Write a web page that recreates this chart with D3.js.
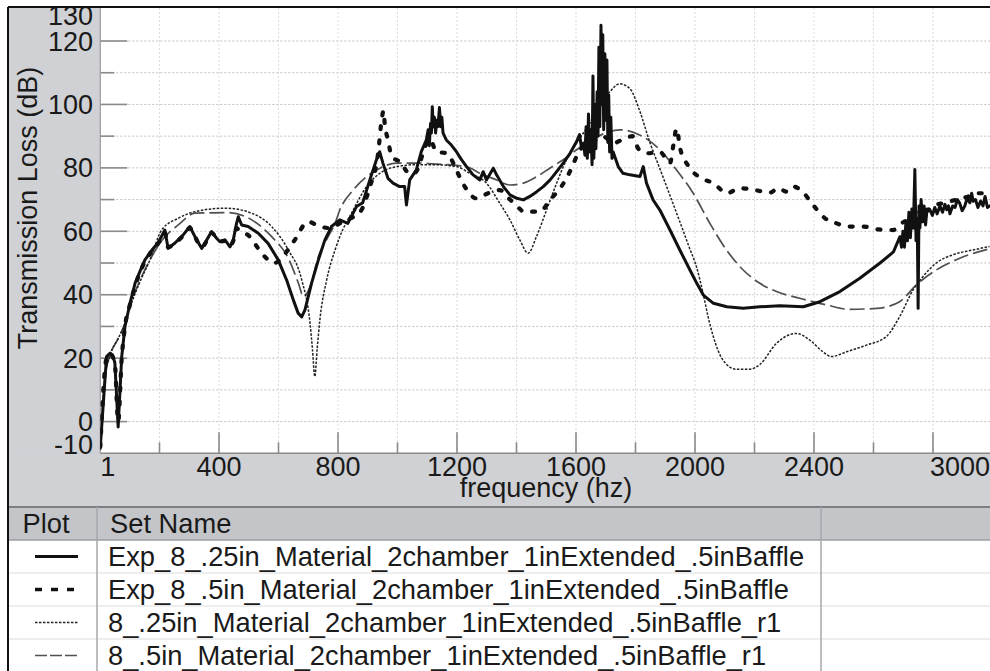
<!DOCTYPE html>
<html>
<head>
<meta charset="utf-8">
<script src="https://cdn.jsdelivr.net/npm/d3@7"></script>
<style>
  html, body { margin: 0; padding: 0; background: #ffffff; }
  svg { display: block; font-family: "Liberation Sans", Arial, Helvetica, sans-serif; }
</style>
</head>
<body>
<svg id="chart" width="990" height="671"></svg>
<script>
// ---- Transmission loss data: frequency (Hz) and TL (dB) for each set ----
const expQuarterFreq = [1,22,34,44,50,61,73,84,101,111,118,134,151,174,196,218,229,252,279,302,319,342,359,375,392,403,420,437,448,459,465,476,498,532,565,599,627,650,666,678,689,711,734,756,778,806,833,862,883,907,929,940,951,968,985,1007,1024,1030,1041,1063,1080,1097,1103,1107,1111,1114,1117,1120,1124,1128,1132,1136,1141,1145,1149,1153,1158,1164,1181,1198,1215,1232,1254,1277,1288,1299,1322,1333,1356,1378,1401,1423,1445,1468,1490,1513,1535,1557,1580,1602,1612,1618,1625,1630,1634,1638,1642,1646,1650,1654,1657,1660,1664,1667,1671,1674,1677,1680,1684,1687,1690,1693,1697,1700,1704,1707,1710,1713,1717,1721,1725,1742,1758,1781,1815,1826,1837,1859,1882,1916,1949,1983,2006,2028,2062,2107,2162,2218,2285,2364,2420,2487,2554,2622,2667,2689,2694,2699,2704,2709,2714,2719,2724,2729,2734,2739,2743,2747,2750,2753,2756,2760,2765,2770,2775,2780,2790,2798,2806,2814,2823,2832,2840,2846,2852,2857,2866,2874,2882,2890,2898,2907,2915,2924,2930,2935,2943,2951,2960,2968,2975,2983,2991];
const expQuarterTL = [-8,20.5,21.6,20.5,18.5,-1.7,20.5,30,37.4,41,43.7,47.3,51,54,56.5,60.4,54.6,56.3,58.8,61.5,58.3,54.6,57.3,59.9,57.8,56.7,57.3,55.1,57.3,62.5,64.6,62,61.5,59.4,56.2,51,44.7,38.3,34.2,33,35.2,43.6,51,57.3,61.5,63.6,62.5,67.8,69,76.2,82.5,85.1,81.5,76.7,75.2,74.1,74.1,68.3,76.2,79.3,85.1,88.8,92,87,94,91,99.3,93,96,91,95,93,99,93,96,91,90,88.8,87.2,85.1,82.6,80.4,77.8,76.2,78.8,76.2,79.9,77.8,74.1,71.5,70.4,69.9,71,72.5,74.1,76.2,78.8,81.5,84.6,88.3,90.5,86.5,87.8,84,93,83,97,85,92,81,109,83,100,86,104,90,118,93,125,100,122,92,116,95,114,88,103,85,96,83,85,80.4,78.3,77.8,77.3,80.4,75.2,69.9,66.7,60.4,54.1,47.8,43.6,39.9,37.3,36.2,35.7,36.2,36.5,36.2,37.8,41,45.2,50,53.5,58.3,55,60,55,63,57,66,58,67,61,79.5,57,64,35.7,68,61,70,63,68,62,67,66.7,65,67.5,65.5,68,66,68.5,66.8,68,65.5,68,67.5,70,68.8,66.5,68,70.5,69,72,69.5,70,67.5,69.5,68,71,67.5,68];

const expHalfFreq = [1,22,34,50,61,73,84,101,134,168,202,218,229,252,279,302,319,342,359,375,392,403,420,437,448,459,470,498,532,565,587,605,638,655,699,740,773,806,840,874,907,934,948,953,957,968,981,996,1010,1030,1050,1070,1090,1110,1130,1165,1185,1198,1226,1265,1305,1344,1378,1412,1423,1478,1513,1557,1585,1607,1640,1670,1690,1725,1758,1790,1810,1840,1882,1916,1927,1938,1950,1977,2022,2062,2107,2151,2202,2252,2280,2308,2330,2358,2397,2437,2476,2515,2565,2616,2666,2694,2720,2740,2770,2800,2840,2880,2920,2950,2991];
const expHalfTL = [-8,20,21.5,18,0,20,30,37,47,53,57,59.5,55,56.3,58.5,61,58.3,55,57,59.5,57.8,56.8,57,55.5,57,61,60,58.8,54.6,51,50,51,55,57.3,63,61.5,61,62.5,64,66,74,84,96,98,94,88.8,83.5,82.5,82,79,78,80,86,89,85.1,84.6,82,79.3,74.1,70.4,72,73,70,67,66.2,66.2,69.9,75,79.9,84.6,88,89,90,87.8,89,90,86,84.6,85,81.5,87,92.4,86.2,80.7,76.7,75.2,72,73.6,73,72.2,73.6,72.5,74.1,72.8,68.3,64.1,62.5,61.5,61.5,60.6,60.4,62.5,64,66,66,68,69,70,71,72,72];

const simQuarterFreq = [1,17,34,60,84,101,134,168,207,263,319,420,510,577,633,678,706,714,722,730,739,762,790,806,851,896,941,997,1064,1131,1198,1243,1299,1344,1378,1411,1439,1467,1501,1535,1568,1602,1646,1680,1714,1747,1781,1814,1848,1882,1915,1949,1982,2005,2027,2044,2061,2094,2139,2184,2218,2274,2341,2386,2430,2458,2509,2576,2643,2688,2733,2766,2811,2867,2934,2990];
const simQuarterTL = [-9,14,21,26,31,36,44,51,60.4,64.1,66.2,67.3,65.7,61.5,54.1,44.7,31,23,14.2,23,32,44.7,54.1,58.3,66.7,74.1,78.3,80.4,81,81,80.4,78.3,75.2,68.8,63.6,57.3,53.1,58.3,66.7,75.2,82.6,87.8,94,99.5,104,106.5,105,98,88.1,79.7,71.5,63,54.6,48.8,40.5,33.1,27,19.4,16.5,16.5,18,24.7,27.8,25.7,22,20.5,22,24.1,26.8,33.1,41.5,45.7,50,52.6,54.1,55.2];

const simHalfFreq = [1,17,34,60,84,101,134,168,207,263,319,431,510,577,633,667,684,706,734,767,790,806,851,896,941,997,1064,1131,1198,1243,1277,1333,1378,1423,1467,1512,1557,1602,1646,1700,1747,1814,1882,1938,1994,2050,2106,2162,2218,2274,2352,2442,2520,2610,2688,2744,2811,2890,2990];
const simHalfTL = [-9,14,21,26,31,36.5,44.5,51,57,62,65.7,65.9,63.6,58.3,51.5,43.6,39.4,42.5,52,58.3,62.5,66.7,73,77.2,79.9,81.5,81.5,81.2,80.8,80,78.3,76.2,74.6,75.2,77.2,79.9,82.6,85.7,88.5,91,92,90.4,85.7,79.3,72,62.5,54.1,47.8,43.6,41,38.9,36.8,35.4,35.7,37.8,43.1,47.8,51.5,54.5];

const setNames = [
  "Exp_8_.25in_Material_2chamber_1inExtended_.5inBaffle",
  "Exp_8_.5in_Material_2chamber_1inExtended_.5inBaffle",
  "8_.25in_Material_2chamber_1inExtended_.5inBaffle_r1",
  "8_.5in_Material_2chamber_1inExtended_.5inBaffle_r1"
];

// ---- Axis ticks ----
const yMajorTicks = [0, 20, 40, 60, 80, 100, 120];
const yMinorTicks = [10, 30, 50, 70, 90, 110];
const yTickLabels = [-10, 0, 20, 40, 60, 80, 100, 120, 130];
const xMajorTicks = [400, 800, 1200, 1600, 2000, 2400, 2800];
const xMinorTicks = [200, 600, 1000, 1400, 1800, 2200, 2600];
const xTickLabels = [1, 400, 800, 1200, 1600, 2000, 2400, 3000];
const yGrid = [0, 10, 20, 30, 40, 50, 60, 70, 80, 90, 100, 110, 120];
const xGrid = [200, 400, 600, 800, 1000, 1200, 1400, 1600, 1800, 2000, 2200, 2400, 2600, 2800];

// ---- Layout ----
const W = 990, H = 671;
const plot = { left: 100.3, top: 8, right: 990, bottom: 453.3 };
const panelGray = "#cfd1d5";
const headerGray = "#c3c5c9";
const axisFont = 27;
const legendFont = 27.3;
const textColor = "#1a1a1a";

const svg = d3.select("#chart");

const x = d3.scaleLinear().domain([1, 3000]).range([plot.left, 992.5]);
const y = d3.scaleLinear().domain([-10, 130]).range([plot.bottom, 9.3]);

// background panels
svg.append("rect").attr("x", 0).attr("y", 0).attr("width", W).attr("height", H).attr("fill", "#fff");
svg.append("rect").attr("x", 8).attr("y", 7).attr("width", plot.left - 8).attr("height", 507 - 7).attr("fill", panelGray);
svg.append("rect").attr("x", 8).attr("y", plot.bottom).attr("width", W - 8).attr("height", 507 - plot.bottom).attr("fill", panelGray);
svg.append("rect").attr("x", plot.left).attr("y", plot.top).attr("width", plot.right - plot.left).attr("height", plot.bottom - plot.top).attr("fill", "#fff");

// grid
const grid = svg.append("g").attr("stroke-dasharray", "2,2").attr("stroke-width", 1);
grid.selectAll("line.h").data(yGrid).join("line").attr("class", "h")
  .attr("x1", plot.left).attr("x2", plot.right)
  .attr("y1", d => y(d)).attr("y2", d => y(d))
  .attr("stroke", "#c0c0c0");
grid.selectAll("line.v").data(xGrid).join("line").attr("class", "v")
  .attr("x1", d => x(d)).attr("x2", d => x(d))
  .attr("y1", plot.top).attr("y2", plot.bottom)
  .attr("stroke", "#dcdcdc");

// ticks
const ticks = svg.append("g").attr("stroke", "#8a8a8a").attr("stroke-width", 1.6);
ticks.selectAll("line.ymaj").data(yMajorTicks).join("line").attr("class", "ymaj")
  .attr("x1", plot.left).attr("x2", plot.left + 27)
  .attr("y1", d => y(d)).attr("y2", d => y(d));
ticks.selectAll("line.ymin").data(yMinorTicks).join("line").attr("class", "ymin")
  .attr("x1", plot.left).attr("x2", plot.left + 14)
  .attr("y1", d => y(d)).attr("y2", d => y(d));
ticks.selectAll("line.xmaj").data(xMajorTicks).join("line").attr("class", "xmaj")
  .attr("x1", d => x(d)).attr("x2", d => x(d))
  .attr("y1", plot.bottom).attr("y2", plot.bottom - 21);
ticks.selectAll("line.xmin").data(xMinorTicks).join("line").attr("class", "xmin")
  .attr("x1", d => x(d)).attr("x2", d => x(d))
  .attr("y1", plot.bottom).attr("y2", plot.bottom - 11);

// axis lines
svg.append("line").attr("x1", plot.left).attr("x2", plot.right).attr("y1", plot.bottom).attr("y2", plot.bottom)
  .attr("stroke", "#8a8a8a").attr("stroke-width", 1.5);
svg.append("line").attr("x1", plot.left).attr("x2", plot.left).attr("y1", plot.top).attr("y2", plot.bottom)
  .attr("stroke", "#9a9a9a").attr("stroke-width", 1.2);

// series
svg.append("clipPath").attr("id", "plotClip").append("rect")
  .attr("x", plot.left).attr("y", plot.top).attr("width", plot.right - plot.left).attr("height", plot.bottom - plot.top);

const series = [
  { freq: simHalfFreq, tl: simHalfTL, stroke: "#505050", width: 1.7, dash: "15,5", cap: "butt", curve: d3.curveMonotoneX },
  { freq: simQuarterFreq, tl: simQuarterTL, stroke: "#222", width: 1.5, dash: "2.5,1.5", cap: "butt", curve: d3.curveMonotoneX },
  { freq: expHalfFreq, tl: expHalfTL, stroke: "#111", width: 4.2, dash: "3,11", cap: "round", curve: d3.curveMonotoneX },
  { freq: expQuarterFreq, tl: expQuarterTL, stroke: "#111", width: 3, dash: null, cap: "round", curve: d3.curveLinear }
];

const lineLayer = svg.append("g").attr("clip-path", "url(#plotClip)");
series.forEach(s => {
  const pts = s.freq.map((f, i) => [f, s.tl[i]]);
  const gen = d3.line().x(d => x(d[0])).y(d => y(d[1])).curve(s.curve);
  lineLayer.append("path")
    .attr("d", gen(pts))
    .attr("fill", "none")
    .attr("stroke", s.stroke)
    .attr("stroke-width", s.width)
    .attr("stroke-linejoin", "round")
    .attr("stroke-linecap", s.cap)
    .attr("stroke-dasharray", s.dash);
});

// y tick labels (end labels kept inside the panel)
svg.append("g").selectAll("text").data(yTickLabels).join("text")
  .attr("x", 93)
  .attr("y", d => d === 130 ? 24.5 : d === -10 ? 453.5 : y(d) + 9.6)
  .attr("text-anchor", "end")
  .attr("font-size", axisFont)
  .attr("fill", textColor)
  .text(d => d);

// x tick labels (end labels kept inside the panel)
svg.append("g").selectAll("text").data(xTickLabels).join("text")
  .attr("x", d => d === 1 ? plot.left : d === 3000 ? W : x(d))
  .attr("y", 476)
  .attr("text-anchor", d => d === 1 ? "start" : d === 3000 ? "end" : "middle")
  .attr("font-size", axisFont)
  .attr("fill", textColor)
  .text(d => d);

// axis titles
svg.append("text").attr("x", 546).attr("y", 497).attr("text-anchor", "middle")
  .attr("font-size", axisFont).attr("fill", textColor).text("frequency (hz)");
svg.append("text").attr("transform", "translate(37,208) rotate(-90)").attr("text-anchor", "middle")
  .attr("font-size", axisFont).attr("fill", textColor).text("Transmission Loss (dB)");

// ---- legend table ----
const legTop = 507, headerH = 33, rowH = 33;
svg.append("rect").attr("x", 8).attr("y", legTop).attr("width", W - 8).attr("height", headerH).attr("fill", headerGray);
svg.append("line").attr("x1", 8).attr("x2", W).attr("y1", legTop).attr("y2", legTop).attr("stroke", "#7d7f83").attr("stroke-width", 2);
svg.append("line").attr("x1", 8).attr("x2", W).attr("y1", legTop + headerH).attr("y2", legTop + headerH).attr("stroke", "#9a9ca0").attr("stroke-width", 1.5);
svg.append("g").selectAll("line").data(d3.range(1, setNames.length)).join("line")
  .attr("x1", 8).attr("x2", W)
  .attr("y1", i => legTop + headerH + i * rowH).attr("y2", i => legTop + headerH + i * rowH)
  .attr("stroke", "#dcdcdc").attr("stroke-width", 1);
[97, 821].forEach(cx => {
  svg.append("line").attr("x1", cx).attr("x2", cx).attr("y1", legTop).attr("y2", H)
    .attr("stroke", "#a5a7ab").attr("stroke-width", 1.5);
});
svg.append("text").attr("x", 46).attr("y", legTop + 26).attr("text-anchor", "middle")
  .attr("font-size", legendFont).attr("fill", textColor).text("Plot");
svg.append("text").attr("x", 110).attr("y", legTop + 26)
  .attr("font-size", legendFont).attr("fill", textColor).text("Set Name");

const legendStyles = [series[3], series[2], series[1], series[0]];
setNames.forEach((name, i) => {
  const cy = legTop + headerH + i * rowH + rowH / 2;
  const s = legendStyles[i];
  svg.append("line").attr("x1", 35).attr("x2", 78).attr("y1", cy).attr("y2", cy)
    .attr("stroke", s.stroke)
    .attr("stroke-width", i === 1 ? 3.5 : s.width)
    .attr("stroke-dasharray", i === 1 ? "7,9" : i === 3 ? "12,3" : s.dash)
    .attr("stroke-linecap", "butt");
  svg.append("text").attr("x", 108).attr("y", cy + 9.5)
    .attr("font-size", legendFont).attr("fill", textColor).text(name);
});

// outer frame
svg.append("line").attr("x1", 8).attr("x2", W).attr("y1", 7).attr("y2", 7).attr("stroke", "#111").attr("stroke-width", 2);
svg.append("line").attr("x1", 8).attr("x2", 8).attr("y1", 7).attr("y2", H).attr("stroke", "#111").attr("stroke-width", 2);
</script>
</body>
</html>
